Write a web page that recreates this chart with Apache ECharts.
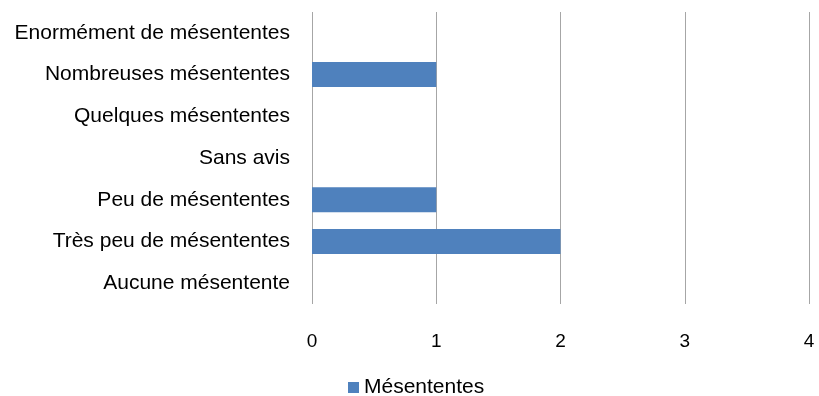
<!DOCTYPE html>
<html lang="fr">
<head>
    <meta charset="UTF-8">
    <title>Mésententes</title>
    <script src="https://cdn.jsdelivr.net/npm/echarts@6.0.0/dist/echarts.min.js"></script>
</head>
<body style="margin:0">
    <div id="main" style="width: 819px;height:396px;"></div>
    <script type="text/javascript">
        // categories from bottom to top (as drawn on the y axis)
        const categories = [
            'Aucune mésentente',
            'Très peu de mésententes',
            'Peu de mésententes',
            'Sans avis',
            'Quelques mésententes',
            'Nombreuses mésententes',
            'Enormément de mésententes'
        ];
        const seriesName = 'Mésententes';
        const values = [0, 2, 1, 0, 0, 1, 0];
        const xTicks = [0, 1, 2, 3, 4];

        let myChart = echarts.init(document.getElementById('main'));

        let options = {
            animation: false,
            textStyle: { fontFamily: 'Liberation Sans' },
            grid: { left: 312, right: 10, top: 12, bottom: 92, containLabel: false },
            legend: {
                top: 372,
                left: 343,
                itemWidth: 11,
                itemHeight: 11,
                itemGap: 9,
                icon: 'rect',
                textStyle: { fontSize: 21, color: '#000', fontFamily: 'Liberation Sans' },
                data: [seriesName]
            },
            xAxis: {
                type: 'value',
                min: xTicks[0],
                max: xTicks[xTicks.length - 1],
                interval: 1,
                axisLine: { show: false },
                axisTick: { show: false },
                axisLabel: { fontSize: 19, color: '#000', margin: 28 },
                splitLine: { show: true, lineStyle: { color: '#a6a6a6', width: 1 } }
            },
            yAxis: {
                type: 'category',
                data: categories,
                axisLine: { show: false },
                axisTick: { show: false },
                axisLabel: { fontSize: 21, color: '#000', margin: 22 }
            },
            series: [{
                name: seriesName,
                type: 'bar',
                data: values,
                barCategoryGap: '40%',
                itemStyle: { color: '#4f81bd' }
            }]
        };
        myChart.setOption(options);
    </script>
</body>
</html>
